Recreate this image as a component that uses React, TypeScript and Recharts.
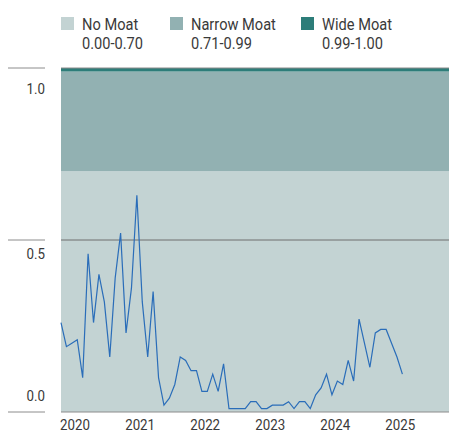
import {
  ComposedChart,
  Line,
  ReferenceArea,
  ReferenceLine,
  XAxis,
  YAxis,
} from 'recharts'

// Monthly moat score, first point roughly Oct 2019, last roughly Jan 2025.
const SCORES = [
  0.26, 0.19, 0.2, 0.21, 0.1, 0.46, 0.26, 0.4, 0.32, 0.16, 0.39, 0.52,
  0.23, 0.36, 0.63, 0.32, 0.16, 0.35, 0.1, 0.02, 0.04, 0.08, 0.16, 0.15,
  0.12, 0.12, 0.06, 0.06, 0.11, 0.06, 0.14, 0.01, 0.01, 0.01, 0.01, 0.03,
  0.03, 0.01, 0.01, 0.02, 0.02, 0.02, 0.03, 0.01, 0.03, 0.03, 0.01, 0.05,
  0.07, 0.11, 0.05, 0.09, 0.08, 0.15, 0.09, 0.27, 0.2, 0.13, 0.23, 0.24,
  0.24, 0.2, 0.16, 0.11,
]
const YEARS = ['2020', '2021', '2022', '2023', '2024', '2025']
const Y_TICKS = [0, 0.5, 1]
const BANDS = [
  { name: 'No Moat', range: '0.00-0.70', from: 0, to: 0.7 },
  { name: 'Narrow Moat', range: '0.71-0.99', from: 0.7, to: 0.99 },
  { name: 'Wide Moat', range: '0.99-1.00', from: 0.99, to: 1 },
]

const BAND_COLORS = ['#c3d3d3', '#92b1b2', '#2d7d79']
const LINE = '#2a6db9'
const RULE = '#8c8c8c'
const TEXT = '#3a3a3a'
const FONT = 'Roboto, sans-serif'
// no condensed face installed, so squeeze Roboto horizontally
const SQUEEZE = 0.86

// first year label sits ~2.6 months after the first point
const FIRST_TICK = 2.6
const X_MAX = 71.6

const data = SCORES.map((v, i) => ({ i, v }))
const xTicks = YEARS.map((_, k) => FIRST_TICK + 12 * k)

// labels in the original sit off their rule lines
const LABEL_SHIFT: Record<number, number> = { 1: 26, 0.5: 19, 0: -11 }

type TextProps = {
  x: number
  y: number
  size: number
  anchor?: 'start' | 'middle' | 'end'
  children: string
}

function NarrowText({ x, y, size, anchor = 'start', children }: TextProps) {
  return (
    <text
      transform={`translate(${x} ${y}) scale(${SQUEEZE} 1)`}
      textAnchor={anchor}
      fontSize={size}
      fontFamily={FONT}
      fill={TEXT}
    >
      {children}
    </text>
  )
}

function YTick({ y, payload }: { y?: number; payload?: { value: number } }) {
  if (y === undefined || !payload) return null
  const v = payload.value
  return (
    <g>
      <line x1={8} x2={45} y1={y} y2={y} stroke={RULE} strokeWidth={1} />
      <NarrowText x={45} y={y + (LABEL_SHIFT[v] ?? 0)} size={15.5} anchor="end">
        {v.toFixed(1)}
      </NarrowText>
    </g>
  )
}

function XTick({ x, payload }: { x?: number; payload?: { value: number; index: number } }) {
  if (x === undefined || !payload) return null
  return (
    <NarrowText x={x} y={430} size={15.5} anchor="middle">
      {YEARS[payload.index]}
    </NarrowText>
  )
}

function MoatLegend() {
  const starts = [61, 170, 301]
  return (
    <svg width={449} height={56} style={{ position: 'absolute', left: 0, top: 0 }}>
      {BANDS.map((b, k) => (
        <g key={b.name}>
          <rect x={starts[k]} y={17} width={13} height={13} fill={BAND_COLORS[k]} />
          <NarrowText x={starts[k] + 21} y={30} size={17}>
            {b.name}
          </NarrowText>
          <NarrowText x={starts[k] + 21} y={49} size={17}>
            {b.range}
          </NarrowText>
        </g>
      ))}
    </svg>
  )
}

export default function App() {
  return (
    <div
      style={{
        position: 'absolute',
        left: 0,
        top: 0,
        width: 449,
        height: 433,
        background: '#fff',
        overflow: 'hidden',
      }}
    >
      <ComposedChart
        width={449}
        height={433}
        data={data}
        margin={{ top: 68, right: 0, bottom: 0, left: 0 }}
      >
        {BANDS.map((b, k) => (
          <ReferenceArea
            key={b.name}
            y1={b.from}
            y2={b.to}
            fill={BAND_COLORS[k]}
            fillOpacity={1}
            stroke="none"
            ifOverflow="hidden"
          />
        ))}
        <ReferenceLine y={0.5} stroke="#6f6f6f" strokeWidth={1} />
        <ReferenceLine y={1} stroke={RULE} strokeWidth={1} />
        <XAxis
          type="number"
          dataKey="i"
          domain={[0, X_MAX]}
          ticks={xTicks}
          tick={<XTick />}
          tickLine={false}
          axisLine={{ stroke: RULE }}
          height={21}
          interval={0}
        />
        <YAxis
          type="number"
          domain={[0, 1]}
          ticks={Y_TICKS}
          tick={<YTick />}
          tickLine={false}
          axisLine={false}
          width={61}
          interval={0}
        />
        <Line
          dataKey="v"
          stroke={LINE}
          strokeWidth={1.2}
          dot={false}
          isAnimationActive={false}
        />
      </ComposedChart>
      <MoatLegend />
    </div>
  )
}
